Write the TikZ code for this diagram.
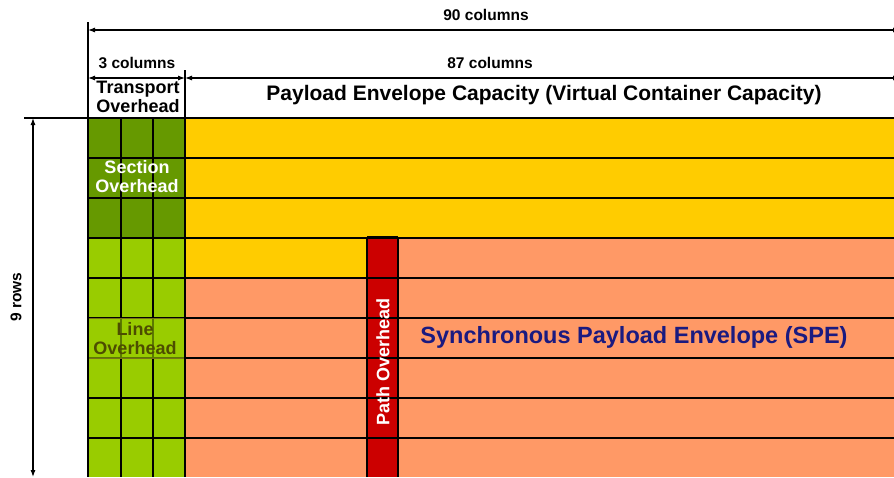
\documentclass[tikz,border=0pt]{standalone}
\usepackage{fontspec}
\setmainfont{Liberation Sans}
\usetikzlibrary{arrows.meta}
\definecolor{sohgreen}{HTML}{669900}
\definecolor{lohgreen}{HTML}{99CC00}
\definecolor{payyellow}{HTML}{FFCC00}
\definecolor{spesalmon}{HTML}{FF9966}
\definecolor{pohred}{HTML}{CC0000}
\definecolor{olivetext}{HTML}{4D4D00}
\definecolor{speblue}{HTML}{1A1A80}
\tikzset{
  grid line/.style={black, line width=1.1pt},
  frame line/.style={black, line width=1.6pt},
  dim arrow/.style={black, line width=1.1pt, {Latex[length=7pt,width=5pt]}-{Latex[length=7pt,width=5pt]}},
  dim label/.style={font=\fontsize{15.5}{16}\selectfont\bfseries, inner sep=1pt},
  head label/.style={font=\fontsize{18}{19}\selectfont\bfseries, align=center, inner sep=0pt},
}
\begin{document}
\begin{tikzpicture}[x=1pt,y=-1pt]
\useasboundingbox (0,0) rectangle (894,477);
% colour fields
\fill[sohgreen] (88,118) rectangle (185,238);
\fill[lohgreen] (88,238) rectangle (185,477);
\fill[payyellow] (185,118) rectangle (894,238);
\fill[payyellow] (185,238) rectangle (367,278);
\fill[spesalmon] (185,278) rectangle (367,477);
\fill[spesalmon] (398,237) rectangle (894,477);
% path overhead column
\fill[pohred] (367,237) rectangle (398,477);
% row lines
\foreach \y in {158,198,238,278,318,358,398,438}
  \draw[grid line] (88,\y) -- (894,\y);
% overhead column lines
\foreach \x in {121,153}
  \draw[grid line] (\x,118) -- (\x,477);
\draw[grid line] (367,237) -- (367,477);
\draw[grid line] (398,237) -- (398,477);
\draw[grid line] (367,237) -- (398,237);
% line overhead label band
\fill[lohgreen, fill opacity=0.6] (88,318) rectangle (185,358);
\draw[olive!80!black, line width=1pt] (88,318) rectangle (185,358);
% frame
\draw[frame line] (24,118) -- (894,118);
\draw[frame line] (88,22) -- (88,477);
\draw[grid line] (185,70) -- (185,477);
% dimension marks
\coordinate (c0) at (88,30);
\coordinate (c90) at (900,30);
\coordinate (t0) at (88,78);
\coordinate (t3) at (185,78);
\coordinate (p3) at (185,78);
\coordinate (p90) at (900,78);
\coordinate (rtop) at (33,118);
\coordinate (rbot) at (33,477);
\draw[dim arrow] (c0) -- (c90);
\draw[dim arrow] (t0) -- (t3);
\draw[dim arrow] (p3) -- (p90);
\draw[dim arrow] (rtop) -- (rbot);
\node[dim label] (l90) at (486,15) {90 columns};
\node[dim label] (l3) at (137,63) {3 columns};
\node[dim label] (l87) at (490,63) {87 columns};
\node[dim label, rotate=90] (l9) at (16,297) {9 rows};
% headings
\node[head label] (toh) at (138,97) {Transport\\Overhead};
\node[font=\fontsize{21}{21}\selectfont\bfseries] (pec) at (544,95) {Payload Envelope Capacity (Virtual Container Capacity)};
\node[head label, text=white] (soh) at (137,177) {Section\\Overhead};
\node[head label, text=olivetext] (loh) at (135,339) {Line\\Overhead};
\node[head label, text=white, rotate=90] (poh) at (383,362) {Path Overhead};
\node[font=\fontsize{23.5}{24}\selectfont\bfseries, text=speblue] (spe) at (634,337) {Synchronous Payload Envelope (SPE)};
\end{tikzpicture}
\end{document}
